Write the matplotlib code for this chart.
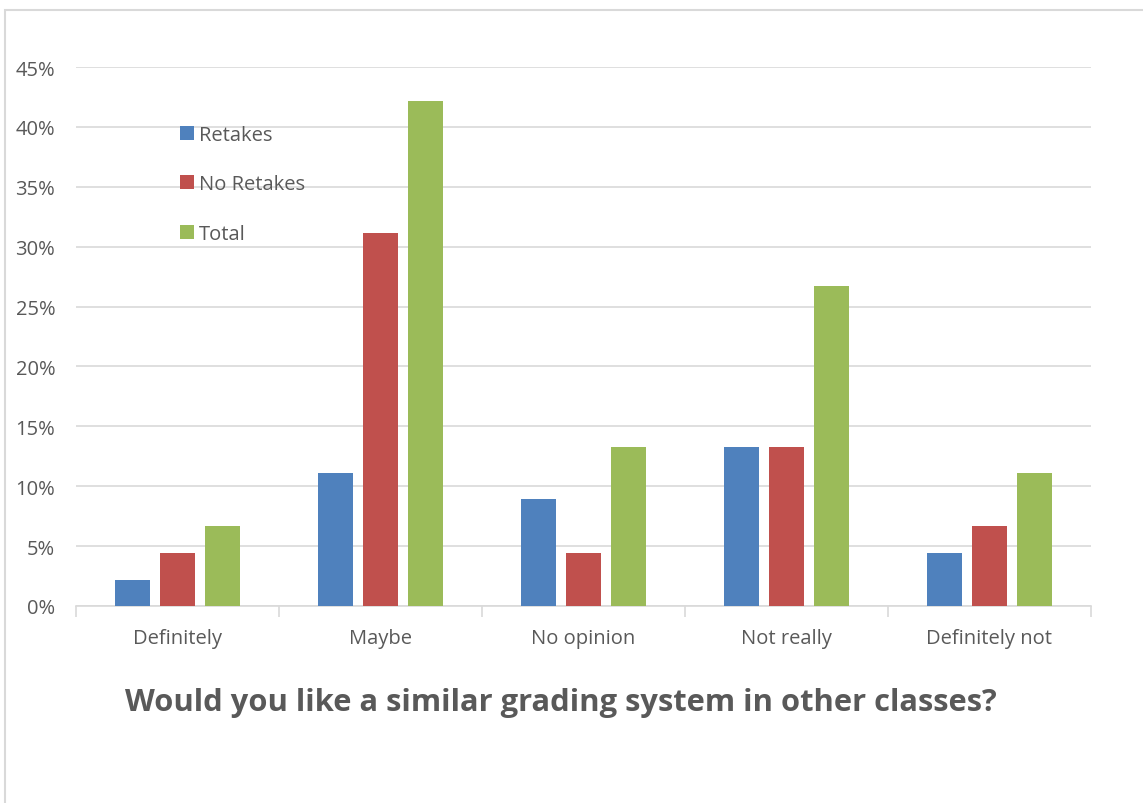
import numpy as np
import matplotlib.pyplot as plt
from matplotlib.patches import Rectangle

categories = ["Definitely", "Maybe", "No opinion", "Not really", "Definitely not"]
retakes = [2.2, 11.1, 8.9, 13.3, 4.4]
no_retakes = [4.4, 31.1, 4.4, 13.3, 6.7]
total = [6.7, 42.2, 13.3, 26.7, 11.1]
series_names = ["Retakes", "No Retakes", "Total"]
colors = ["#4F81BD", "#C0504D", "#9BBB59"]
title = "Would you like a similar grading system in other classes?"

plt.rcParams["font.family"] = ["Open Sans", "DejaVu Sans"]
text_color = "#595959"
grid_color = "#D9D9D9"


def main():
    fig = plt.figure(figsize=(11.43, 8.04), dpi=100)
    ax = fig.add_axes([76 / 1143, 1 - 607 / 804, (1091 - 76) / 1143, (607 - 68) / 804])

    # outer chart frame (only left and top are visible in the crop)
    fig.patches.append(Rectangle((5 / 1143, -0.1), 1.2, 1 - 11 / 804 + 0.1,
                                 transform=fig.transFigure, fill=False,
                                 edgecolor="#D9D9D9", linewidth=1.5))

    x = np.arange(len(categories))
    step = 0.222
    width = 0.172
    for i, (vals, name) in enumerate(zip([retakes, no_retakes, total], series_names)):
        ax.bar(x + (i - 1) * step, vals, width, color=colors[i], label=name, zorder=3)

    ax.set_xlim(-0.5, len(categories) - 0.5)
    ax.set_ylim(0, 45)
    ax.set_yticks(np.arange(0, 46, 5))
    ax.set_yticklabels([f"{v}%" for v in range(0, 46, 5)])
    ax.yaxis.grid(True, color=grid_color, linewidth=1.2, zorder=0)
    ax.tick_params(axis="y", length=0, pad=15, labelsize=14.5, labelcolor=text_color)

    # category labels centred, tick marks at group boundaries
    ax.set_xticks(np.arange(-0.5, len(categories), 1.0))
    ax.set_xticklabels([])
    ax.set_xticks(x, minor=True)
    ax.set_xticklabels(categories, minor=True)
    ax.tick_params(axis="x", which="major", length=8, color=grid_color, width=1.2)
    ax.tick_params(axis="x", which="minor", length=0, pad=16, labelsize=14.5,
                   labelcolor=text_color)

    for side in ["top", "right", "left"]:
        ax.spines[side].set_visible(False)
    ax.spines["bottom"].set_color(grid_color)
    ax.spines["bottom"].set_linewidth(1.2)

    # white legend area hiding the gridlines
    ax.add_patch(Rectangle((0.058, 0.647), 0.204, 0.265, transform=ax.transAxes,
                           facecolor="white", edgecolor="none", zorder=1))
    ax.legend(loc="upper left", bbox_to_anchor=(0.1025, 0.892), frameon=False,
              fontsize=14.5, labelcolor=text_color, handlelength=0.7,
              handleheight=0.7, handletextpad=0.25, labelspacing=1.45,
              borderpad=0, borderaxespad=0)

    fig.text(561 / 1143, 1 - 703 / 804, title, ha="center", va="center",
             fontsize=22.2, fontweight="bold", color=text_color)

    fig.savefig("out.png", dpi=100)


if __name__ == "__main__":
    main()
